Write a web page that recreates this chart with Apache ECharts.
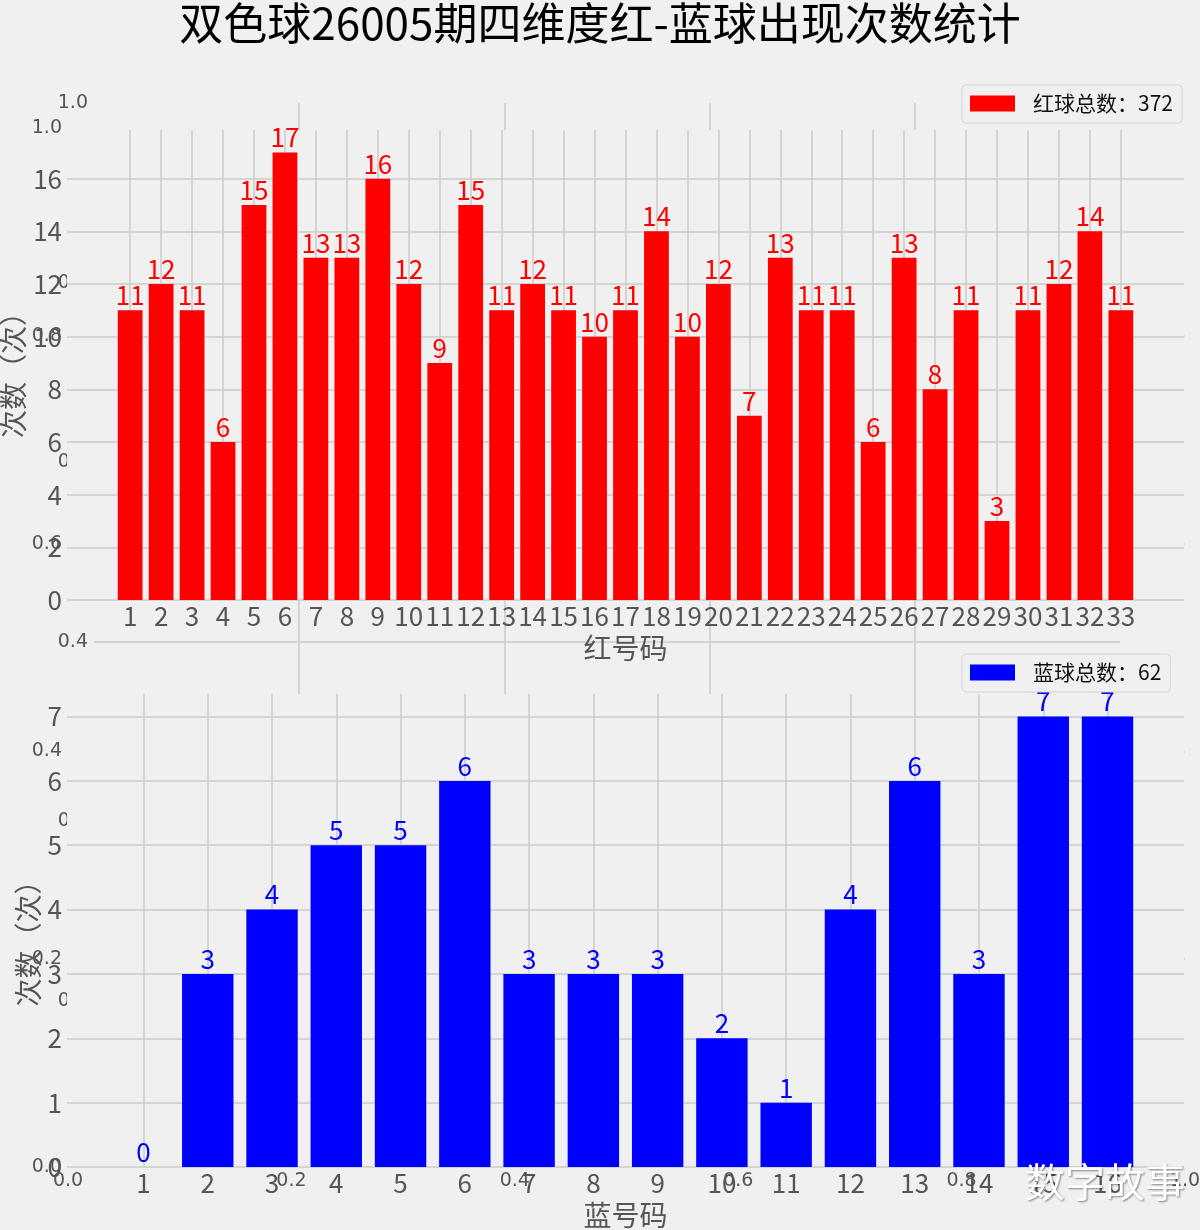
<!DOCTYPE html>
<html><head><meta charset="utf-8">
<script src="https://cdn.jsdelivr.net/npm/echarts@6/dist/echarts.min.js"></script>
<style>html,body{margin:0;padding:0;background:#f0f0f0}#c{width:1200px;height:1230px}</style>
</head><body><div id="c"></div>
<script>
const titleText = '双色球26005期四维度红-蓝球出现次数统计';
const redNumbers = [1,2,3,4,5,6,7,8,9,10,11,12,13,14,15,16,17,18,19,20,21,22,23,24,25,26,27,28,29,30,31,32,33];
const redCounts = [11,12,11,6,15,17,13,13,16,12,9,15,11,12,11,10,11,14,10,12,7,13,11,11,6,13,8,11,3,11,12,14,11];
const blueNumbers = [1,2,3,4,5,6,7,8,9,10,11,12,13,14,15,16];
const blueCounts = [0,3,4,5,5,6,3,3,3,2,1,4,6,3,7,7];
const redYTicks = [0,2,4,6,8,10,12,14,16];
const blueYTicks = [0,1,2,3,4,5,6,7];
const ghostTicks = [0,0.2,0.4,0.6,0.8,1.0];
const ghostInnerTicks = [0.2,0.4,0.6,0.8];

const FONT = 'Noto Sans CJK SC';
const GHOST_FONT = 'DejaVu Sans';
const GRID_LINE = '#cbcbcb';
const TICK_COLOR = '#555';

const redTotal = redCounts.reduce((a,b)=>a+b,0);
const blueTotal = blueCounts.reduce((a,b)=>a+b,0);
const redName = '红球总数：' + redTotal;
const blueName = '蓝球总数：' + blueTotal;

// axis extents like matplotlib auto-margins
const redXMin = 0.6 - 0.05*32.8, redXMax = 33.4 + 0.05*32.8;
const blueXMin = 0.6 - 0.05*15.8, blueXMax = 16.4 + 0.05*15.8;
const redYMax = 17*1.05, blueYMax = 7*1.05;

const plotW = 1117;
const redBarW = plotW/(redXMax-redXMin)*0.8;
const blueBarW = plotW/(blueXMax-blueXMin)*0.8;

const ghostLabel = {customValues:ghostTicks, fontSize:19, color:TICK_COLOR, fontFamily:GHOST_FONT, formatter:v=>Number(v).toFixed(1)};
const split = {show:true, lineStyle:{color:GRID_LINE, width:1.5}};

const legendCommon = {orient:'horizontal', icon:'rect', itemWidth:45, itemHeight:16,
  padding:[8,9,9,8], borderColor:'#d4d4d4', borderWidth:1, borderRadius:4, backgroundColor:'#f0f0f0', z:20,
  textStyle:{fontSize:21, color:'#111', fontFamily:FONT, lineHeight:21, padding:[0,0,0,13]}};

const chart = echarts.init(document.getElementById('c'), null, {renderer:'canvas'});
chart.setOption({
  backgroundColor:'#f0f0f0',
  animation:false,
  title:{text:titleText, left:'center', top:-4, textStyle:{fontSize:44, fontWeight:'normal', color:'#000', fontFamily:FONT}},
  legend:[
    Object.assign({data:[redName], left:962, top:85}, legendCommon),
    Object.assign({data:[blueName], left:962, top:654}, legendCommon)
  ],
  grid:[
    {left:68, top:128, width:1117, height:1039, z:0, outerBoundsMode:'none', containLabel:false},
    {left:94, top:103, width:1026, height:898, z:2, show:true, backgroundColor:'#f0f0f0', borderWidth:0, outerBoundsMode:'none', containLabel:false},
    {left:67, top:130, width:plotW, height:470, z:4, show:true, backgroundColor:'#f0f0f0', borderWidth:0, outerBoundsMode:'none', containLabel:false},
    {left:67, top:694, width:plotW, height:473, z:7, show:true, backgroundColor:'#f0f0f0', borderWidth:0, outerBoundsMode:'none', containLabel:false}
  ],
  xAxis:[
    {gridIndex:0, type:'value', min:0, max:1, interval:0.2, z:1, axisLine:{show:false},
     axisTick:{show:false, customValues:ghostInnerTicks},
     axisLabel:Object.assign({margin:5}, ghostLabel), splitLine:split},
    {gridIndex:1, type:'value', min:0, max:1, interval:0.2, z:3, axisLine:{show:false},
     axisTick:{show:false, customValues:ghostInnerTicks},
     axisLabel:Object.assign({margin:5}, ghostLabel), splitLine:split},
    {gridIndex:2, type:'value', min:redXMin, max:redXMax, z:5, axisLine:{show:false},
     axisTick:{show:false, customValues:redNumbers},
     axisLabel:{customValues:redNumbers, fontSize:26, color:TICK_COLOR, fontFamily:FONT, margin:3},
     splitLine:split,
     name:'红号码', nameLocation:'middle', nameGap:34, nameMoveOverlap:false, nameTextStyle:{fontSize:28, color:TICK_COLOR, fontFamily:FONT}},
    {gridIndex:3, type:'value', min:blueXMin, max:blueXMax, z:8, axisLine:{show:false},
     axisTick:{show:false, customValues:blueNumbers},
     axisLabel:{customValues:blueNumbers, fontSize:26, color:TICK_COLOR, fontFamily:FONT, margin:3},
     splitLine:split,
     name:'蓝号码', nameLocation:'middle', nameGap:34, nameMoveOverlap:false, nameTextStyle:{fontSize:28, color:TICK_COLOR, fontFamily:FONT}}
  ],
  yAxis:[
    {gridIndex:0, type:'value', min:0, max:1, interval:0.2, z:1, axisLine:{show:false},
     axisTick:{show:false, customValues:ghostInnerTicks},
     axisLabel:Object.assign({margin:6}, ghostLabel), splitLine:split},
    {gridIndex:1, type:'value', min:0, max:1, interval:0.2, z:3, axisLine:{show:false},
     axisTick:{show:false, customValues:ghostInnerTicks},
     axisLabel:Object.assign({margin:6}, ghostLabel), splitLine:split},
    {gridIndex:2, type:'value', min:0, max:redYMax, z:5, axisLine:{show:false},
     axisTick:{show:false, customValues:redYTicks},
     axisLabel:{customValues:redYTicks, fontSize:26, color:TICK_COLOR, fontFamily:FONT, margin:5},
     splitLine:split,
     name:'次数（次）', nameLocation:'middle', nameGap:40, nameRotate:90, nameMoveOverlap:false,
     nameTextStyle:{fontSize:28, color:TICK_COLOR, fontFamily:FONT, padding:[0,6,0,0]}},
    {gridIndex:3, type:'value', min:0, max:blueYMax, z:8, axisLine:{show:false},
     axisTick:{show:false, customValues:blueYTicks},
     axisLabel:{customValues:blueYTicks, fontSize:26, color:TICK_COLOR, fontFamily:FONT, margin:5},
     splitLine:split,
     name:'次数（次）', nameLocation:'middle', nameGap:25, nameRotate:90, nameMoveOverlap:false,
     nameTextStyle:{fontSize:28, color:TICK_COLOR, fontFamily:FONT, padding:[0,12,0,0]}}
  ],
  series:[
    {name:redName, type:'bar', xAxisIndex:2, yAxisIndex:2, z:6, barWidth:redBarW,
     itemStyle:{color:'#ff0000'},
     label:{show:true, position:'top', distance:2, color:'#ff0000', fontSize:26, fontFamily:FONT, formatter:p=>p.value[1]},
     data:redNumbers.map((n,i)=>[n, redCounts[i]])},
    {name:blueName, type:'bar', xAxisIndex:3, yAxisIndex:3, z:9, barWidth:blueBarW,
     itemStyle:{color:'#0000ff'},
     label:{show:true, position:'top', distance:2, color:'#0000ff', fontSize:26, fontFamily:FONT, formatter:p=>p.value[1]},
     data:blueNumbers.map((n,i)=>[n, blueCounts[i]])}
  ],
  graphic:[
    {type:'text', left:1025, top:1162, z:30, style:{text:'数字故事', fontSize:40, fontFamily:FONT, fill:'#ffffff',
      textShadowColor:'rgba(0,0,0,0.45)', textShadowBlur:2, textShadowOffsetX:1, textShadowOffsetY:1}}
  ]
});
</script></body></html>
